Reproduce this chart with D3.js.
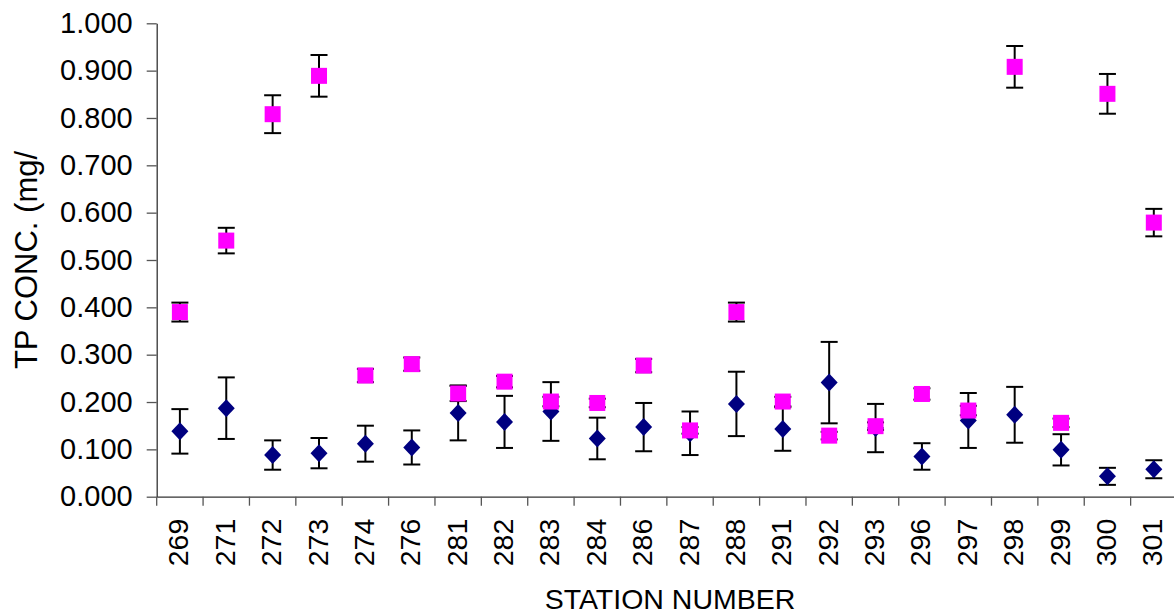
<!DOCTYPE html>
<html>
<head>
    <meta charset="utf-8">
    <title>TP Concentration by Station</title>
    <script src="https://d3js.org/d3.v7.min.js"></script>
</head>
<style>
    body {
        margin: 0;
        background: white;
    }
    text {
        font-family: "Liberation Sans", Arial, sans-serif;
        fill: #000;
    }
</style>
<body>
    <div id="chart"></div>
    <script>
        // station numbers along the x axis
        var stations = ["269", "271", "272", "273", "274", "276", "281", "282", "283", "284", "286",
            "287", "288", "291", "292", "293", "296", "297", "298", "299", "300", "301"];

        // pink squares
        var tpHigh = [0.390, 0.541, 0.808, 0.889, 0.256, 0.280, 0.218, 0.243, 0.201, 0.198, 0.277,
            0.140, 0.390, 0.201, 0.129, 0.149, 0.217, 0.182, 0.908, 0.156, 0.851, 0.579];
        var tpHighErr = [0.020, 0.027, 0.040, 0.044, 0.014, 0.014, 0.016, 0.012, 0.010, 0.009, 0.014,
            0.007, 0.020, 0.010, 0.008, 0.008, 0.012, 0.010, 0.044, 0.009, 0.042, 0.029];

        // navy diamonds
        var tpLow = [0.138, 0.187, 0.088, 0.092, 0.112, 0.104, 0.177, 0.158, 0.180, 0.123, 0.147,
            0.134, 0.196, 0.143, 0.241, 0.145, 0.085, 0.161, 0.173, 0.099, 0.043, 0.058];
        var tpLowErr = [0.047, 0.065, 0.031, 0.032, 0.038, 0.036, 0.058, 0.055, 0.062, 0.044, 0.051,
            0.046, 0.068, 0.046, 0.086, 0.051, 0.028, 0.058, 0.059, 0.033, 0.018, 0.019];

        var yTicks = [0, 0.1, 0.2, 0.3, 0.4, 0.5, 0.6, 0.7, 0.8, 0.9, 1.0];

        var width = 1174;
        var height = 616;
        var margin = {top: 23.3, right: -3, bottom: 119.3, left: 156.7};

        var svg = d3.select("#chart")
            .append("svg")
            .attr("width", width)
            .attr("height", height);

        var x = d3.scaleBand()
            .domain(stations)
            .range([margin.left, width - margin.right])
            .padding(0);

        var y = d3.scaleLinear()
            .domain([0, 1])
            .range([height - margin.bottom, margin.top]);

        // y axis
        var yAxis = svg.append("g")
            .attr("transform", "translate(" + margin.left + ",0)")
            .call(d3.axisLeft(y)
                .tickValues(yTicks)
                .tickFormat(d3.format(".3f"))
                .tickSize(10)
                .tickSizeOuter(0)
                .tickPadding(14));
        yAxis.select(".domain").attr("stroke", "#333").attr("stroke-width", 1.3);
        yAxis.selectAll(".tick line").attr("stroke", "#555").attr("stroke-width", 1.3);
        yAxis.selectAll(".tick text")
            .style("font-size", "29px")
            .attr("fill", "#000");

        // x axis: labels at band centres, tick marks at band edges
        var xAxis = svg.append("g")
            .attr("transform", "translate(0," + y(0) + ")")
            .call(d3.axisBottom(x).tickSize(0).tickSizeOuter(0));
        xAxis.select(".domain").attr("stroke", "#333").attr("stroke-width", 1.3);
        xAxis.selectAll(".tick text")
            .style("font-size", "28.5px")
            .attr("transform", "rotate(-90)")
            .attr("x", -22)
            .attr("y", 0)
            .attr("dy", "0.3em")
            .attr("text-anchor", "end");

        var edges = stations.map(function(s) { return x(s); });
        edges.push(x(stations[stations.length - 1]) + x.bandwidth());
        xAxis.selectAll(".edge")
            .data(edges)
            .enter().append("line")
            .attr("class", "edge")
            .attr("x1", function(d) { return d; })
            .attr("x2", function(d) { return d; })
            .attr("y1", 0)
            .attr("y2", 9)
            .attr("stroke", "#555")
            .attr("stroke-width", 1.3);

        // axis titles
        svg.append("text")
            .attr("transform", "translate(37," + ((y(0) + y(1)) / 2) + ") rotate(-90)")
            .attr("text-anchor", "middle")
            .style("font-size", "31px")
            .text("TP CONC. (mg/");

        svg.append("text")
            .attr("x", 670)
            .attr("y", 609)
            .attr("text-anchor", "middle")
            .style("font-size", "28.5px")
            .text("STATION NUMBER");

        // error bars for both series, drawn under the markers
        var cx = function(i) { return x(stations[i]) + x.bandwidth() / 2; };
        var capHalf = 8.5;

        function errorBars(values, errs, cls) {
            var g = svg.selectAll("." + cls)
                .data(values)
                .enter().append("g")
                .attr("class", cls)
                .attr("stroke", "#000")
                .attr("stroke-width", 2);
            g.append("line")
                .attr("x1", function(d, i) { return cx(i); })
                .attr("x2", function(d, i) { return cx(i); })
                .attr("y1", function(d, i) { return y(d + errs[i]); })
                .attr("y2", function(d, i) { return y(d - errs[i]); });
            g.append("line")
                .attr("x1", function(d, i) { return cx(i) - capHalf; })
                .attr("x2", function(d, i) { return cx(i) + capHalf; })
                .attr("y1", function(d, i) { return y(d + errs[i]); })
                .attr("y2", function(d, i) { return y(d + errs[i]); });
            g.append("line")
                .attr("x1", function(d, i) { return cx(i) - capHalf; })
                .attr("x2", function(d, i) { return cx(i) + capHalf; })
                .attr("y1", function(d, i) { return y(d - errs[i]); })
                .attr("y2", function(d, i) { return y(d - errs[i]); });
        }
        errorBars(tpLow, tpLowErr, "err-low");
        errorBars(tpHigh, tpHighErr, "err-high");

        // diamonds
        svg.selectAll(".diamond")
            .data(tpLow)
            .enter().append("path")
            .attr("class", "diamond")
            .attr("d", "M0,-9L8.5,0L0,9L-8.5,0Z")
            .attr("transform", function(d, i) { return "translate(" + cx(i) + "," + y(d) + ")"; })
            .attr("fill", "#000080");

        // squares
        var side = 16;
        svg.selectAll(".square")
            .data(tpHigh)
            .enter().append("rect")
            .attr("class", "square")
            .attr("x", function(d, i) { return cx(i) - side / 2; })
            .attr("y", function(d) { return y(d) - side / 2; })
            .attr("width", side)
            .attr("height", side)
            .attr("fill", "#FF00FF");
    </script>
</body>
</html>
